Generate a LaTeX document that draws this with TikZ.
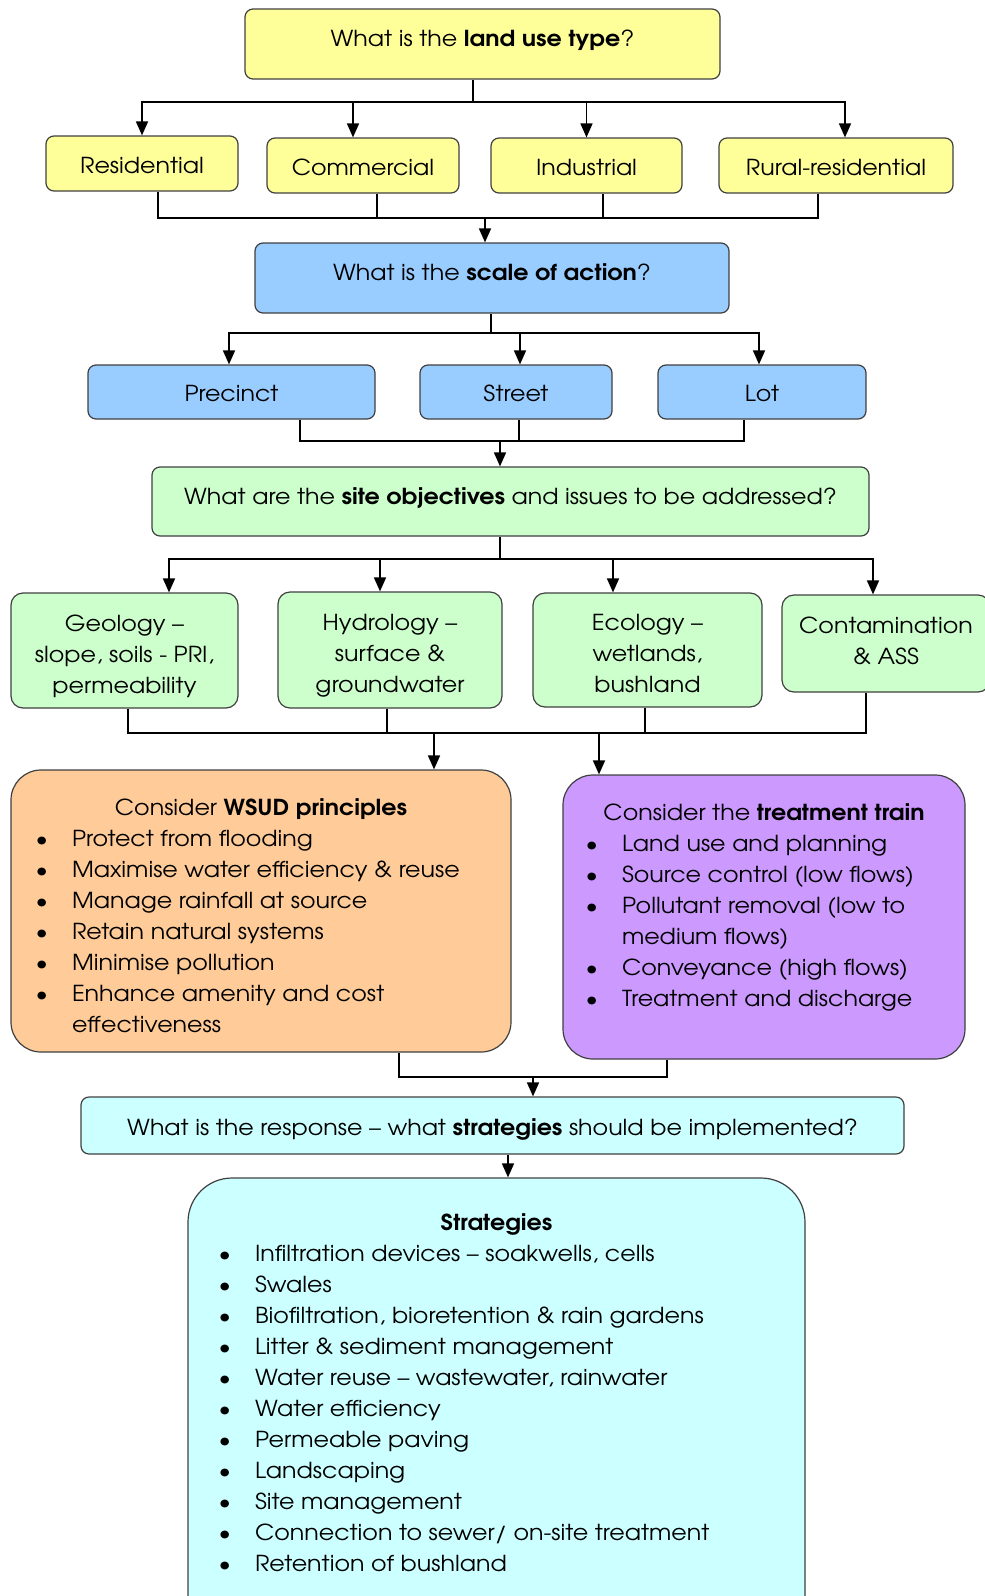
\documentclass[tikz,border=0pt]{standalone}
\usepackage{fontspec}
\setmainfont{texgyreadventor}[Extension=.otf, UprightFont=*-regular, BoldFont=*-bold, ItalicFont=*-italic, BoldItalicFont=*-bolditalic, FakeStretch=1.08]
\usepackage{enumitem}
\usetikzlibrary{arrows.meta}

\definecolor{giallo}{HTML}{FFFF99}
\definecolor{azzurro}{HTML}{99CCFF}
\definecolor{verde}{HTML}{CCFFCC}
\definecolor{arancio}{HTML}{FFCC99}
\definecolor{viola}{HTML}{CC99FF}
\definecolor{ciano}{HTML}{CCFFFF}

\tikzset{
  riquadro/.style={draw=black!75, line width=0.6pt, rounded corners=4pt, inner sep=0pt, font=\fontsize{11}{15.5}\selectfont},
  scatola/.style={riquadro, align=center, text height=10pt, text depth=0.5pt},
  domanda/.style={scatola, text height=8pt, text depth=5.5pt},
  trerighe/.style={riquadro, align=center, fill=verde, rounded corners=6pt, text height=42.5pt, text depth=0pt},
  linea/.style={line width=0.8pt},
  freccia/.style={linea, -{Triangle[width=6pt,length=7pt]}}
}

\newcommand{\elenco}[1]{\begin{itemize}[leftmargin=#1, labelsep=12pt, itemsep=0pt, topsep=0pt, parsep=0pt, partopsep=0pt]}

\begin{document}
\begin{tikzpicture}[x=0.5pt, y=-0.5pt]

\useasboundingbox (0,0) rectangle (985,1596);
\clip (0,0) rectangle (985,1596);

% Tipo di uso del suolo
\node[domanda, fill=giallo, minimum width=237.5pt, minimum height=35pt] (q1) at (482.5,44) {What is the \textbf{land use type}?};
\node[scatola, fill=giallo, minimum width=96pt, minimum height=27.5pt] (res) at (142,163.5) {Residential};
\node[scatola, fill=giallo, minimum width=96pt, minimum height=27.5pt] (com) at (363,165.5) {Commercial};
\node[scatola, fill=giallo, minimum width=95.5pt, minimum height=27.5pt] (ind) at (586.5,165.5) {Industrial};
\node[scatola, fill=giallo, minimum width=117pt, minimum height=27.5pt] (rur) at (836,165.5) {Rural-residential};

% Scala d'intervento
\node[domanda, fill=azzurro, minimum width=237pt, minimum height=35pt] (q2) at (492,278) {What is the \textbf{scale of action}?};
\node[scatola, fill=azzurro, minimum width=143.5pt, minimum height=27pt] (pre) at (231.5,392) {Precinct};
\node[scatola, fill=azzurro, minimum width=96pt, minimum height=27pt] (str) at (516,392) {Street};
\node[scatola, fill=azzurro, minimum width=104pt, minimum height=27pt] (lot) at (762,392) {Lot};

% Obiettivi del sito
\node[domanda, fill=verde, minimum width=358.5pt, minimum height=34.5pt] (q3) at (510.5,501.5) {What are the \textbf{site objectives} and issues to be addressed?};
\node[trerighe, minimum width=113.5pt, minimum height=57.5pt] (geo) at (124.5,650.5) {Geology --\\slope, soils - PRI,\\permeability};
\node[trerighe, minimum width=112pt, minimum height=58pt] (hyd) at (390,650) {Hydrology --\\surface \&\\groundwater};
\node[trerighe, minimum width=114.5pt, minimum height=57pt] (eco) at (647.5,650) {Ecology --\\wetlands,\\bushland};
\node[trerighe, text height=20.6pt, minimum width=104pt, minimum height=48.5pt] (con) at (886,643.5) {Contamination\\\& ASS};

% Principi WSUD e treatment train
\node[riquadro, fill=arancio, rounded corners=15pt] (wsud) at (261,911) {\parbox[c][141pt][t]{250pt}{%
  \centering\rule{0pt}{22.5pt}Consider \textbf{WSUD principles}\par\raggedright
  \elenco{30.5pt}
  \item Protect from flooding
  \item Maximise water efficiency \& reuse
  \item Manage rainfall at source
  \item Retain natural systems
  \item Minimise pollution
  \item Enhance amenity and cost\newline effectiveness
  \end{itemize}}};
\node[riquadro, fill=viola, rounded corners=15pt] (treat) at (764,917) {\parbox[c][142pt][t]{201pt}{%
  \centering\rule{0pt}{22.5pt}Consider the \textbf{treatment train}\par\raggedright
  \elenco{29.5pt}
  \item Land use and planning
  \item Source control (low flows)
  \item Pollutant removal (low to\newline medium flows)
  \item Conveyance (high flows)
  \item Treatment and discharge
  \end{itemize}}};

% Risposta e strategie
\node[scatola, fill=ciano, minimum width=411.5pt, minimum height=28.5pt] (q4) at (492.5,1125.5) {What is the response -- what \textbf{strategies} should be implemented?};
\node[riquadro, fill=ciano, rounded corners=22pt] (strat) at (496.5,1419) {\parbox[c][241pt][t]{308.5pt}{%
  \centering\rule{0pt}{26pt}\textbf{Strategies}\par\raggedright
  \elenco{33.5pt}
  \item Infiltration devices -- soakwells, cells
  \item Swales
  \item Biofiltration, bioretention \& rain gardens
  \item Litter \& sediment management
  \item Water reuse -- wastewater, rainwater
  \item Water efficiency
  \item Permeable paving
  \item Landscaping
  \item Site management
  \item Connection to sewer/ on-site treatment
  \item Retention of bushland
  \end{itemize}}};

% Collegamenti livello 1
\coordinate (j1) at (473,102);
\draw[linea] (q1.south -| j1) -- (j1);
\draw[freccia] (j1) -| (res.north);
\draw[freccia] (j1) -| ([xshift=-5pt]com.north);
\draw[freccia] (j1) -| (ind.north);
\draw[freccia] (j1) -| ([xshift=4.5pt]rur.north);
\coordinate (j2) at (485,218);
\draw[linea] ([xshift=8pt]res.south) |- (j2);
\draw[linea] ([xshift=7pt]com.south) |- (j2);
\draw[linea] ([xshift=8.25pt]ind.south) |- (j2);
\draw[linea] ([xshift=-9pt]rur.south) |- (j2);
\draw[freccia] (j2) -- (q2.north -| j2);

% Collegamenti livello 2
\coordinate (j3) at (491,333);
\draw[linea] (q2.south -| j3) -- (j3);
\draw[freccia] (j3) -| ([xshift=-1.25pt]pre.north);
\draw[freccia] (j3) -| ([xshift=2pt]str.north);
\draw[freccia] (j3) -| ([xshift=-1.5pt]lot.north);
\coordinate (j4) at (500,441);
\draw[linea] ([xshift=34.25pt]pre.south) |- (j4);
\draw[linea] ([xshift=1.5pt]str.south) |- (j4);
\draw[linea] ([xshift=-9pt]lot.south) |- (j4);
\draw[freccia] (j4) -- (q3.north -| j4);

% Collegamenti livello 3
\coordinate (j5) at (500,559);
\draw[linea] (q3.south -| j5) -- (j5);
\draw[freccia] (j5) -| ([xshift=22.25pt]geo.north);
\draw[freccia] (j5) -| ([xshift=-5pt]hyd.north);
\draw[freccia] (j5) -| ([xshift=-17.25pt]eco.north);
\draw[freccia] (j5) -| ([xshift=-6.5pt]con.north);
\coordinate (j6) at (434,733);
\coordinate (j7) at (599,733);
\draw[linea] ([xshift=1.75pt]geo.south) |- (j6);
\draw[linea] ([xshift=-1.5pt]hyd.south) |- (j6);
\draw[linea] ([xshift=-1.25pt]eco.south) |- (j7);
\draw[linea] ([xshift=-10pt]con.south) |- (j7);
\draw[linea] (j6) -- (j7);
\draw[freccia] (j6) -- (wsud.north -| j6);
\draw[freccia] (j7) -- (treat.north -| j7);

% Collegamenti livello 4
\coordinate (j8) at (533,1077);
\draw[linea] ([xshift=69pt]wsud.south) |- (j8);
\draw[linea] ([xshift=-48.5pt]treat.south) |- (j8);
\draw[freccia] (j8) -- (q4.north -| j8);
\coordinate (j9) at ([xshift=7.75pt]q4.south);
\draw[freccia] (j9) -- (strat.north -| j9);

\end{tikzpicture}
\end{document}
